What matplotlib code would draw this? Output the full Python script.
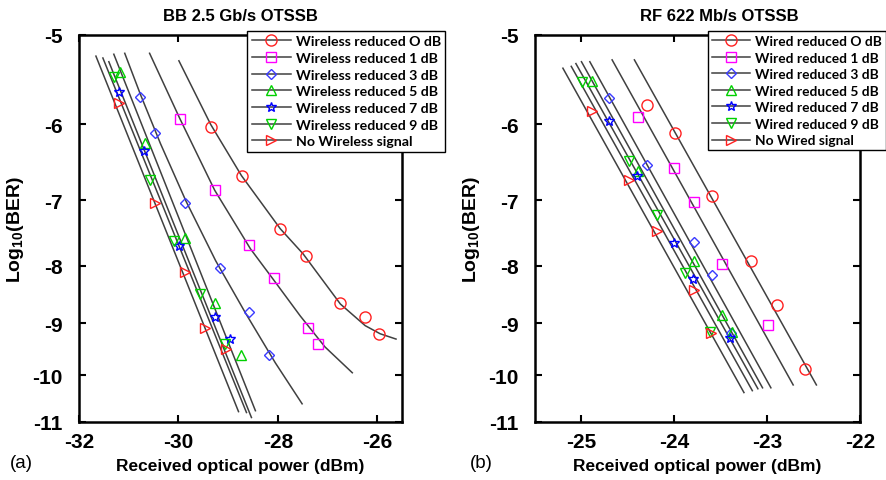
import numpy as np
import matplotlib
matplotlib.use("Agg")
import matplotlib.pyplot as plt
from matplotlib.lines import Line2D
from matplotlib.ticker import NullLocator

plt.rcParams['font.family'] = ['Liberation Sans', 'DejaVu Sans']
plt.rcParams['mathtext.fontset'] = 'custom'
plt.rcParams['mathtext.rm'] = 'Liberation Sans'
plt.rcParams['mathtext.bf'] = 'Liberation Sans:bold'

# === Panel (a): BB 2.5 Gb/s, wireless attenuation ===
a_labels = ["Wireless reduced O dB", "Wireless reduced 1 dB", "Wireless reduced 3 dB",
            "Wireless reduced 5 dB", "Wireless reduced 7 dB", "Wireless reduced 9 dB",
            "No Wireless signal"]
a_x = [
    [-29.35, -28.73, -27.95, -27.43, -26.74, -26.24, -25.96],
    [-29.97, -29.27, -28.57, -28.07, -27.39, -27.19],
    [-30.78, -30.48, -29.87, -29.17, -28.57, -28.17],
    [-31.18, -30.68, -29.87, -29.27, -28.75],
    [-31.20, -30.70, -29.99, -29.27, -28.97],
    [-31.30, -30.58, -30.09, -29.57, -29.07],
    [-31.20, -30.48, -29.87, -29.47, -29.05],
]
a_y = [
    [-6.03, -6.66, -7.42, -7.84, -8.63, -8.88, -9.19],
    [-5.93, -6.86, -7.67, -8.20, -9.08, -9.38],
    [-5.67, -6.11, -7.04, -8.04, -8.79, -9.59],
    [-5.39, -6.23, -7.56, -8.63, -9.59],
    [-5.62, -6.33, -7.68, -8.88, -9.29],
    [-5.45, -6.72, -7.61, -8.47, -9.38],
    [-5.74, -7.04, -8.10, -9.08, -9.48],
]
# fitted curves
a_fit_x = [
    [-29.99, -29.35, -28.73, -27.95, -27.49, -26.74, -26.24, -25.94, -25.62],
    [-30.58, -29.97, -29.27, -28.55, -28.07, -27.55, -27.05, -26.50],
    [-31.08, -30.76, -30.36, -29.85, -29.25, -28.65, -28.05, -27.51],
    [-31.30, -28.45],
    [-31.40, -28.53],
    [-31.52, -28.63],
    [-31.66, -28.79],
]
a_fit_y = [
    [-5.27, -6.00, -6.66, -7.42, -7.81, -8.65, -9.04, -9.19, -9.29],
    [-5.19, -5.93, -6.86, -7.73, -8.25, -8.86, -9.44, -9.95],
    [-5.19, -5.65, -6.24, -7.01, -7.92, -8.81, -9.75, -10.60],
    [-5.20, -10.75],
    [-5.28, -10.90],
    [-5.24, -10.79],
    [-5.22, -10.77],
]

# === Panel (b): RF 622 Mb/s, wired attenuation ===
b_labels = ["Wired reduced O dB", "Wired reduced 1 dB", "Wired reduced 3 dB",
            "Wired reduced 5 dB", "Wired reduced 7 dB", "Wired reduced 9 dB",
            "No Wired signal"]
b_x = [
    [-24.29, -23.99, -23.59, -23.17, -22.89, -22.59],
    [-24.39, -24.00, -23.79, -23.49, -22.99],
    [-24.70, -24.29, -23.79, -23.59, -23.39],
    [-24.89, -24.39, -23.79, -23.49, -23.38],
    [-24.70, -24.40, -24.00, -23.80, -23.40],
    [-24.99, -24.49, -24.19, -23.89, -23.62],
    [-24.89, -24.49, -24.19, -23.79, -23.60],
]
b_y = [
    [-5.77, -6.11, -6.94, -7.92, -8.66, -9.87],
    [-5.91, -6.56, -7.03, -7.97, -9.02],
    [-5.68, -6.52, -7.62, -8.15, -9.17],
    [-5.49, -6.60, -7.92, -8.84, -9.15],
    [-5.96, -6.66, -7.64, -8.22, -9.27],
    [-5.50, -6.46, -7.21, -8.12, -9.15],
    [-5.84, -6.72, -7.45, -8.40, -9.17],
]
b_fit_x = [
    [-24.43, -22.47],
    [-24.67, -22.72],
    [-24.91, -22.96],
    [-25.00, -23.05],
    [-25.06, -23.10],
    [-25.11, -23.16],
    [-25.20, -23.25],
]
b_fit_y = [
    [-5.26, -10.20],
    [-5.26, -10.20],
    [-5.28, -10.26],
    [-5.28, -10.26],
    [-5.30, -10.28],
    [-5.33, -10.32],
    [-5.35, -10.36],
]

yticks = [-5, -6, -7, -8, -9, -10, -11]

markers = ['o', 's', 'D', '^', '*', 'v', '>']
colors = ['#ff2020', '#ff00ff', '#3a3aff', '#00d000', '#0000ff', '#00d000', '#ff2020']
msizes = [8, 7.5, 5, 7, 7.5, 7, 7]
line_col = '#404040'


def fwd(v):
    return -np.log10(np.clip(-np.asarray(v, dtype=float), 1e-6, None))


def inv(u):
    return -10.0 ** (-np.asarray(u, dtype=float))


def draw_panel(ax, xs, ys, fxs, fys, labels, xlim, xticks, title, title_x, leg_anchor, leg_size):
    for fx, fy in zip(fxs, fys):
        ax.plot(fx, fy, color=line_col, lw=1.1, zorder=2)
    for i in range(len(xs)):
        ax.plot(xs[i], ys[i], ls='none', marker=markers[i], ms=msizes[i],
                mfc='none', mec=colors[i], mew=1.0, zorder=3)
    ax.set_yscale('function', functions=(fwd, inv))
    ax.set_ylim(-11, -5)
    ax.set_xlim(*xlim)
    ax.set_yticks(yticks)
    ax.set_yticklabels([str(t) for t in yticks])
    ax.yaxis.set_minor_locator(NullLocator())
    ax.set_xticks(xticks)
    ax.set_xticklabels([str(t) for t in xticks])
    ax.tick_params(direction='in', top=True, right=True, length=5, width=1.5,
                   labelsize=15)
    ax.tick_params(axis='y', pad=12)
    ax.tick_params(axis='x', pad=7)
    for lab in ax.get_xticklabels() + ax.get_yticklabels():
        lab.set_fontweight('bold')
    for sp in ax.spines.values():
        sp.set_linewidth(1.8)
    ax.set_xlabel('Received optical power (dBm)', fontsize=12.5, fontweight='bold', labelpad=5)
    ax.set_ylabel(r'$\mathbf{Log_{10}(BER)}$', fontsize=14, labelpad=4)
    ax.set_title(title, fontsize=12, fontweight='bold', x=title_x, pad=11)

    handles = [Line2D([], [], color=line_col, lw=1.1, marker=markers[i], ms=msizes[i],
                      mfc='none', mec=colors[i], mew=1.0) for i in range(len(labels))]
    leg = ax.legend(handles, labels, loc='upper right', bbox_to_anchor=leg_anchor,
                    bbox_transform=fig.transFigure, borderaxespad=0, fancybox=False,
                    framealpha=1, edgecolor='black', handlelength=2.75,
                    labelspacing=0.33, borderpad=0.3, handletextpad=0.35,
                    prop={'family': 'Lato', 'weight': 'bold', 'size': leg_size})
    leg.get_frame().set_linewidth(1.0)
    leg.set_zorder(5)


fig = plt.figure(figsize=(8.87, 4.81), dpi=100)
ax1 = fig.add_axes([0.0891, 0.1206, 0.3641, 0.8046])
ax2 = fig.add_axes([0.6032, 0.1206, 0.3664, 0.8046])

draw_panel(ax1, a_x, a_y, a_fit_x, a_fit_y, a_labels, (-32, -25.5), [-32, -30, -28, -26],
           'BB 2.5 Gb/s OTSSB', 0.5, (0.5017, 0.9335), 10.2)
draw_panel(ax2, b_x, b_y, b_fit_x, b_fit_y, b_labels, (-25.5, -22), [-25, -24, -23, -22],
           'RF 622 Mb/s OTSSB', 0.566, (0.9990, 0.9335), 9.9)

fig.text(0.011, 0.027, '(a)', fontsize=13.5)
fig.text(0.530, 0.027, '(b)', fontsize=13.5)

fig.savefig('out.png', dpi=100)
plt.close(fig)
